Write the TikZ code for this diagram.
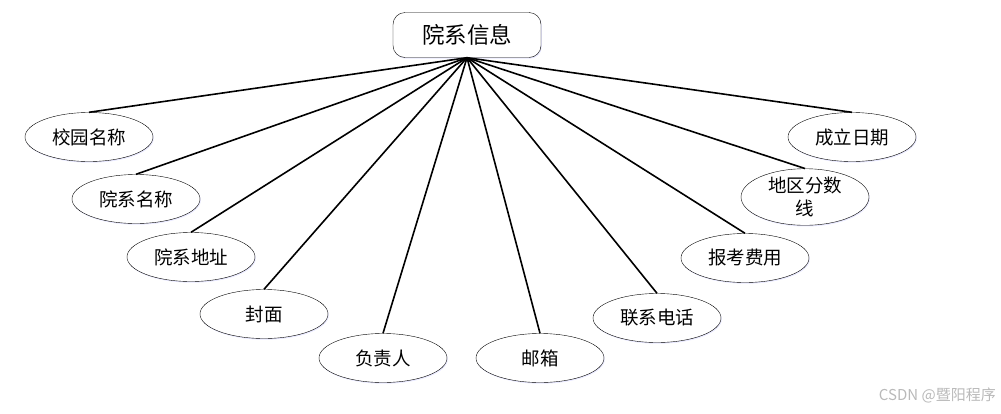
\documentclass[tikz,border=0pt]{standalone}
\usepackage{fontspec}
\setmainfont{Noto Sans CJK SC}
\newfontfamily\cjk{Noto Sans CJK SC}
\usetikzlibrary{shapes.geometric,shadows}
\begin{document}
\begin{tikzpicture}[x=1pt,y=-1pt,
  attr/.style={ellipse,draw,thin,fill=white,minimum width=128pt,minimum height=49pt,inner sep=0pt,
    font=\cjk\fontsize{18.5}{23}\selectfont,align=center,
    drop shadow={shadow xshift=0.8pt,shadow yshift=-1.2pt,fill=blue!25,opacity=0.35}},
  ent/.style={rectangle,rounded corners=12pt,draw,thin,fill=white,minimum width=148pt,minimum height=45pt,inner sep=0pt,
    font=\cjk\fontsize{22.5}{25}\selectfont,
    drop shadow={shadow xshift=0.8pt,shadow yshift=-1.2pt,fill=blue!25,opacity=0.35}},
  link/.style={line width=1.6pt}]
\useasboundingbox (0,0) rectangle (1001,413);
\node[ent] (top) at (467,35) {院系信息};
\node[attr] (a1) at (89,137) {校园名称};
\node[attr] (a2) at (136,199) {院系名称};
\node[attr] (a3) at (191,257) {院系地址};
\node[attr] (a4) at (264,314) {封面};
\node[attr] (a5) at (383,358) {负责人};
\node[attr] (a6) at (540,358) {邮箱};
\node[attr] (a7) at (657,318) {联系电话};
\node[attr] (a8) at (745,258) {报考费用};
\node[attr] (a9) at (805,197) {地区分数\\线};
\node[attr] (a10) at (852,137) {成立日期};
\foreach \n in {a1,a2,a3,a4,a5,a6,a7,a8,a9,a10}
  \draw[link] (top.south) -- (\n.north);
\node[text=gray!55,font=\cjk\fontsize{15}{17}\selectfont,anchor=east,inner sep=0pt] (wm) at (996,395) {CSDN @暨阳程序};
\end{tikzpicture}
\end{document}
